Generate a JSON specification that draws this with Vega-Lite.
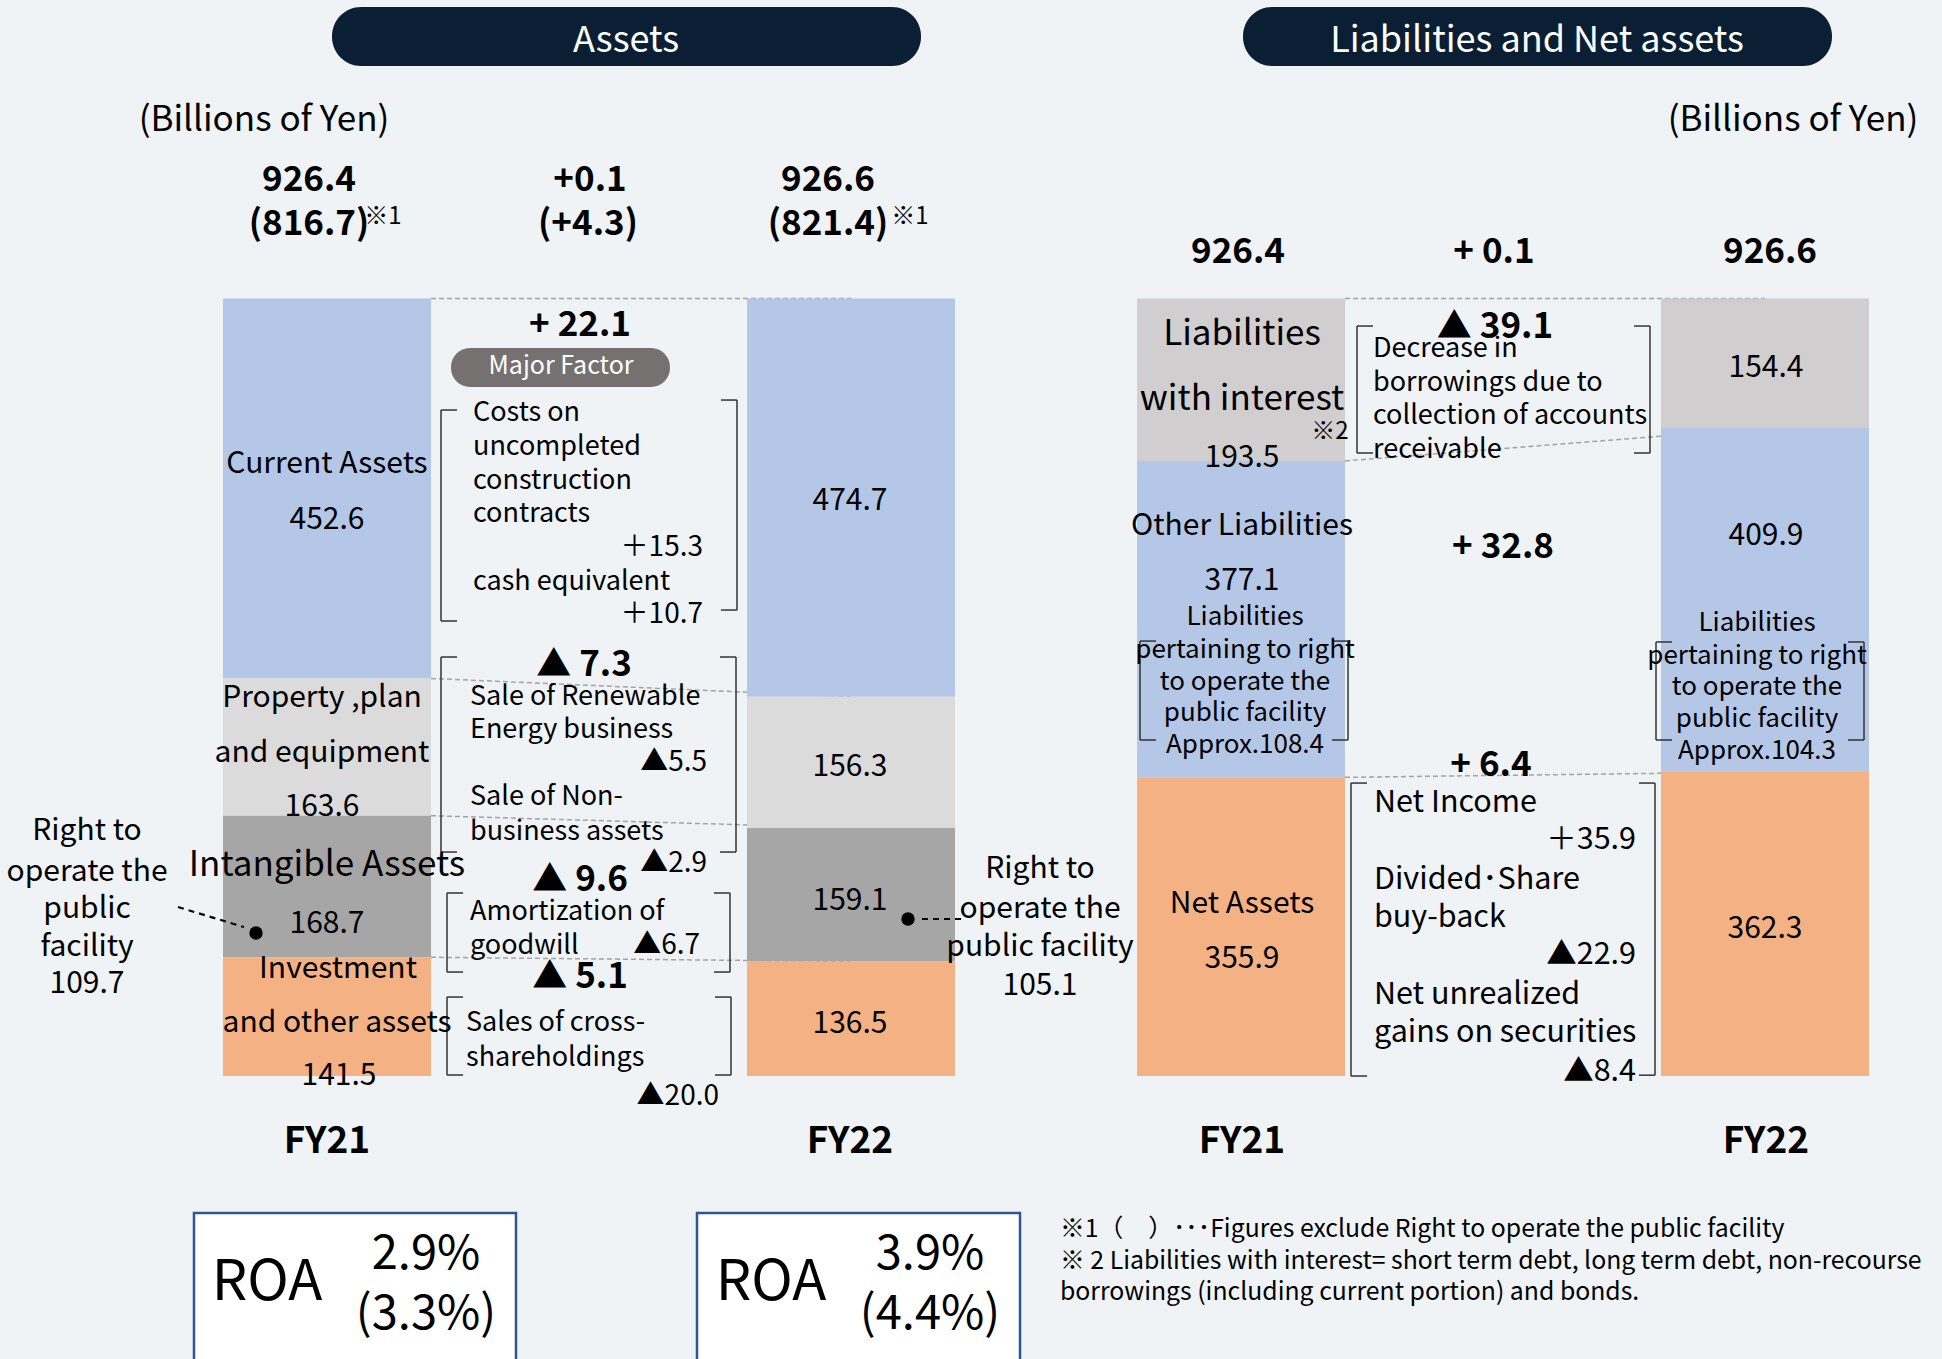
{
  "$schema": "https://vega.github.io/schema/vega-lite/v6.json",
  "width": 1942,
  "height": 1359,
  "autosize": {"type": "none"},
  "padding": 0,
  "background": "#EFF3F5",
  "config": {"view": {"stroke": null}, "font": "Noto Sans CJK JP", "axis": {"disable": true}, "legend": {"disable": true}},
  "datasets": {
    "bars": [
      {"side": "Assets", "year": "FY21", "item": "Current Assets", "order": 4, "value": 452.6},
      {"side": "Assets", "year": "FY21", "item": "Property, plant and equipment", "order": 3, "value": 163.6},
      {"side": "Assets", "year": "FY21", "item": "Intangible Assets", "order": 2, "value": 168.7},
      {"side": "Assets", "year": "FY21", "item": "Investment and other assets", "order": 1, "value": 141.5},
      {"side": "Assets", "year": "FY22", "item": "Current Assets", "order": 4, "value": 474.7},
      {"side": "Assets", "year": "FY22", "item": "Property, plant and equipment", "order": 3, "value": 156.3},
      {"side": "Assets", "year": "FY22", "item": "Intangible Assets", "order": 2, "value": 159.1},
      {"side": "Assets", "year": "FY22", "item": "Investment and other assets", "order": 1, "value": 136.5},
      {"side": "Liabilities", "year": "FY21", "item": "Liabilities with interest", "order": 3, "value": 193.5},
      {"side": "Liabilities", "year": "FY21", "item": "Other Liabilities", "order": 2, "value": 377.1},
      {"side": "Liabilities", "year": "FY21", "item": "Net Assets", "order": 1, "value": 355.9},
      {"side": "Liabilities", "year": "FY22", "item": "Liabilities with interest", "order": 3, "value": 154.4},
      {"side": "Liabilities", "year": "FY22", "item": "Other Liabilities", "order": 2, "value": 409.9},
      {"side": "Liabilities", "year": "FY22", "item": "Net Assets", "order": 1, "value": 362.3}
    ],
    "pills": [
      {"kind": "title", "x": 332, "x2": 921, "y": 1273.8, "y2": 1203.5},
      {"kind": "title", "x": 1243, "x2": 1832, "y": 1273.8, "y2": 1203.5},
      {"kind": "factor", "x": 451, "x2": 670, "y": 867.5, "y2": 821.0}
    ],
    "boxes": [
      {"x": 194, "x2": 516, "y": -163.3, "y2": -420},
      {"x": 697, "x2": 1020, "y": -163.3, "y2": -420}
    ],
    "brackets": [
      {"xo": 441, "xi": 457, "top": 793.6, "bottom": 542.2},
      {"xo": 737, "xi": 721, "top": 805.5, "bottom": 555.3},
      {"xo": 441, "xi": 457, "top": 499.3, "bottom": 266.9},
      {"xo": 736, "xi": 720, "top": 499.3, "bottom": 266.9},
      {"xo": 447, "xi": 463, "top": 218.1, "bottom": 123.9},
      {"xo": 730, "xi": 714, "top": 218.1, "bottom": 123.9},
      {"xo": 447, "xi": 463, "top": 94.1, "bottom": 1.2},
      {"xo": 731, "xi": 715, "top": 94.1, "bottom": 1.2},
      {"xo": 1357, "xi": 1373, "top": 893.7, "bottom": 742.4},
      {"xo": 1650, "xi": 1634, "top": 893.7, "bottom": 742.4},
      {"xo": 1351, "xi": 1367, "top": 349.1, "bottom": 0},
      {"xo": 1655, "xi": 1639, "top": 349.1, "bottom": 1.0},
      {"xo": 1140, "xi": 1156, "top": 518.3, "bottom": 400.4},
      {"xo": 1348, "xi": 1332, "top": 518.3, "bottom": 400.4},
      {"xo": 1656, "xi": 1672, "top": 517.2, "bottom": 400.4},
      {"xo": 1864, "xi": 1848, "top": 517.2, "bottom": 400.4}
    ],
    "pointers": [
      {"x": 178, "x2": 244, "y": 201.4, "y2": 177.5},
      {"x": 922, "x2": 962, "y": 187.1, "y2": 187.1}
    ],
    "dots": [
      {"x": 256, "y": 170.4},
      {"x": 908, "y": 187.1}
    ],
    "texts": [
      {"kind": "title", "text": "Assets", "x": 626, "y": 1236.9},
      {"kind": "title", "text": "Liabilities and Net assets", "x": 1537, "y": 1236.9},
      {"kind": "unit", "text": "(Billions of Yen)", "x": 264, "y": 1141.6},
      {"kind": "unit", "text": "(Billions of Yen)", "x": 1793, "y": 1141.6},
      {"kind": "total", "text": "926.4", "x": 309, "y": 1070.1},
      {"kind": "total", "text": "(816.7)", "x": 309, "y": 1017.6},
      {"kind": "total", "text": "+0.1", "x": 590, "y": 1070.1},
      {"kind": "total", "text": "(+4.3)", "x": 588, "y": 1017.6},
      {"kind": "total", "text": "926.6", "x": 828, "y": 1070.1},
      {"kind": "total", "text": "(821.4)", "x": 828, "y": 1017.6},
      {"kind": "total", "text": "926.4", "x": 1238, "y": 984.3},
      {"kind": "total", "text": "+ 0.1", "x": 1494, "y": 984.3},
      {"kind": "total", "text": "926.6", "x": 1770, "y": 984.3},
      {"kind": "note", "text": "※1", "x": 383, "y": 1023.6},
      {"kind": "note", "text": "※1", "x": 910, "y": 1023.6},
      {"kind": "note", "text": "※2", "x": 1330, "y": 767.4},
      {"kind": "label", "text": "Current Assets", "x": 327, "y": 730.5},
      {"kind": "label", "text": "452.6", "x": 327, "y": 663.7},
      {"kind": "label", "text": "Property ,plan", "x": 322, "y": 451.6},
      {"kind": "label", "text": "and equipment", "x": 322, "y": 386.1},
      {"kind": "label", "text": "163.6", "x": 322, "y": 321.7},
      {"kind": "labelBig", "text": "Intangible Assets", "x": 327, "y": 252.6},
      {"kind": "label", "text": "168.7", "x": 327, "y": 182.3},
      {"kind": "label", "text": "Investment", "x": 338, "y": 128.7},
      {"kind": "label", "text": "and other assets", "x": 337, "y": 64.3},
      {"kind": "label", "text": "141.5", "x": 339, "y": 1.2},
      {"kind": "label", "text": "474.7", "x": 850, "y": 686.4},
      {"kind": "label", "text": "156.3", "x": 850, "y": 369.4},
      {"kind": "label", "text": "159.1", "x": 850, "y": 209.7},
      {"kind": "label", "text": "136.5", "x": 850, "y": 63.2},
      {"kind": "label", "text": "193.5", "x": 1242, "y": 737.6},
      {"kind": "label", "text": "Other Liabilities", "x": 1242, "y": 656.6},
      {"kind": "label", "text": "377.1", "x": 1242, "y": 591.0},
      {"kind": "label", "text": "Net Assets", "x": 1242, "y": 206.2},
      {"kind": "label", "text": "355.9", "x": 1242, "y": 140.6},
      {"kind": "label", "text": "154.4", "x": 1766, "y": 844.9},
      {"kind": "label", "text": "409.9", "x": 1766, "y": 644.7},
      {"kind": "label", "text": "362.3", "x": 1765, "y": 176.4},
      {"kind": "label", "text": "Right to", "x": 87, "y": 293.1},
      {"kind": "label", "text": "operate the", "x": 87, "y": 244.3},
      {"kind": "label", "text": "public", "x": 87, "y": 200.2},
      {"kind": "label", "text": "facility", "x": 87, "y": 154.9},
      {"kind": "label", "text": "109.7", "x": 87, "y": 110.8},
      {"kind": "label", "text": "Right to", "x": 1040, "y": 247.9},
      {"kind": "label", "text": "operate the", "x": 1040, "y": 200.2},
      {"kind": "label", "text": "public facility", "x": 1040, "y": 154.9},
      {"kind": "label", "text": "105.1", "x": 1040, "y": 108.4},
      {"kind": "labelBig", "text": "Liabilities", "x": 1242, "y": 885.4},
      {"kind": "labelBig", "text": "with interest", "x": 1242, "y": 807.9},
      {"kind": "delta", "text": "+ 22.1", "x": 580, "y": 897.3},
      {"kind": "delta", "text": "▲ 7.3", "x": 584, "y": 492.1},
      {"kind": "delta", "text": "▲ 9.6", "x": 580, "y": 235.9},
      {"kind": "delta", "text": "▲ 5.1", "x": 580, "y": 120.4},
      {"kind": "delta", "text": "▲ 39.1", "x": 1495, "y": 894.9},
      {"kind": "delta", "text": "+ 32.8", "x": 1503, "y": 632.7},
      {"kind": "delta", "text": "+ 6.4", "x": 1491, "y": 373.0},
      {"kind": "factL", "text": "Costs on", "x": 473, "y": 790.0},
      {"kind": "factL", "text": "uncompleted", "x": 473, "y": 749.5},
      {"kind": "factL", "text": "construction", "x": 473, "y": 709.0},
      {"kind": "factL", "text": "contracts", "x": 473, "y": 669.7},
      {"kind": "factL", "text": "cash equivalent", "x": 473, "y": 588.7},
      {"kind": "factL", "text": "Sale of Renewable", "x": 470, "y": 451.6},
      {"kind": "factL", "text": "Energy business", "x": 470, "y": 412.3},
      {"kind": "factL", "text": "Sale of Non-", "x": 470, "y": 332.5},
      {"kind": "factL", "text": "business assets", "x": 470, "y": 290.8},
      {"kind": "factL", "text": "Amortization of", "x": 470, "y": 195.4},
      {"kind": "factL", "text": "goodwill", "x": 470, "y": 154.9},
      {"kind": "factL", "text": "Sales of cross-", "x": 466, "y": 63.2},
      {"kind": "factL", "text": "shareholdings", "x": 466, "y": 21.4},
      {"kind": "factL", "text": "Decrease in", "x": 1373, "y": 866.3},
      {"kind": "factL", "text": "borrowings due to", "x": 1373, "y": 825.8},
      {"kind": "factL", "text": "collection of accounts", "x": 1373, "y": 786.5},
      {"kind": "factL", "text": "receivable", "x": 1373, "y": 745.9},
      {"kind": "factR", "text": "＋15.3", "x": 703, "y": 629.2},
      {"kind": "factR", "text": "＋10.7", "x": 703, "y": 549.3},
      {"kind": "factR", "text": "▲5.5", "x": 707, "y": 373.0},
      {"kind": "factR", "text": "▲2.9", "x": 707, "y": 252.6},
      {"kind": "factR", "text": "▲6.7", "x": 700, "y": 154.9},
      {"kind": "factR", "text": "▲20.0", "x": 719, "y": -25.0},
      {"kind": "factL2", "text": "Net Income", "x": 1374, "y": 325.3},
      {"kind": "factL2", "text": "Divided･Share", "x": 1374, "y": 233.6},
      {"kind": "factL2", "text": "buy-back", "x": 1374, "y": 188.3},
      {"kind": "factL2", "text": "Net unrealized", "x": 1374, "y": 96.5},
      {"kind": "factL2", "text": "gains on securities", "x": 1374, "y": 51.2},
      {"kind": "factR2", "text": "＋35.9", "x": 1636, "y": 281.2},
      {"kind": "factR2", "text": "▲22.9", "x": 1636, "y": 144.2},
      {"kind": "factR2", "text": "▲8.4", "x": 1636, "y": 4.8},
      {"kind": "sub", "text": "Liabilities", "x": 1245, "y": 547.0},
      {"kind": "sub", "text": "pertaining to right", "x": 1245, "y": 507.6},
      {"kind": "sub", "text": "to operate the", "x": 1245, "y": 469.5},
      {"kind": "sub", "text": "public facility", "x": 1245, "y": 432.6},
      {"kind": "sub", "text": "Approx.108.4", "x": 1245, "y": 394.4},
      {"kind": "sub", "text": "Liabilities", "x": 1757, "y": 539.8},
      {"kind": "sub", "text": "pertaining to right", "x": 1757, "y": 500.5},
      {"kind": "sub", "text": "to operate the", "x": 1757, "y": 463.5},
      {"kind": "sub", "text": "public facility", "x": 1757, "y": 425.4},
      {"kind": "sub", "text": "Approx.104.3", "x": 1757, "y": 387.3},
      {"kind": "pill", "text": "Major Factor", "x": 561, "y": 846.0},
      {"kind": "fy", "text": "FY21", "x": 327, "y": -76.0},
      {"kind": "fy", "text": "FY22", "x": 850, "y": -76.0},
      {"kind": "fy", "text": "FY21", "x": 1242, "y": -76.0},
      {"kind": "fy", "text": "FY22", "x": 1766, "y": -76.0},
      {"kind": "roa", "text": "ROA", "x": 267, "y": -246.7},
      {"kind": "roa", "text": "ROA", "x": 771, "y": -246.7},
      {"kind": "pct", "text": "2.9%", "x": 426, "y": -213.3},
      {"kind": "pct", "text": "(3.3%)", "x": 426, "y": -284.8},
      {"kind": "pct", "text": "3.9%", "x": 930, "y": -213.3},
      {"kind": "pct", "text": "(4.4%)", "x": 930, "y": -284.8},
      {"kind": "foot", "text": "※1（　）･･･Figures exclude Right to operate the public facility", "x": 1060, "y": -183.5},
      {"kind": "foot", "text": "※ 2 Liabilities with interest= short term debt, long term debt, non-recourse", "x": 1060, "y": -221.6},
      {"kind": "foot", "text": "borrowings (including current portion) and bonds.", "x": 1060, "y": -258.6}
    ]
  },
  "resolve": {"scale": {"x": "independent"}},
  "layer": [
    {
      "data": {"name": "bars"},
      "transform": [
        {"filter": "datum.side === 'Assets'"},
        {"stack": "value", "groupby": ["year"], "sort": [{"field": "order", "order": "ascending"}], "as": ["y0", "y1"]}
      ],
      "layer": [
        {
          "transform": [{"pivot": "year", "value": "y1", "groupby": ["item"]}],
          "mark": {"type": "rule", "strokeDash": [5, 3], "color": "#A3A3A3", "strokeWidth": 1.5},
          "encoding": {
            "x": {"datum": "FY21", "type": "nominal", "bandPosition": 1},
            "x2": {"datum": "FY22"},
            "y": {"field": "FY21", "type": "quantitative"},
            "y2": {"field": "FY22"}
          }
        },
        {
          "mark": {"type": "bar"},
          "encoding": {
            "x": {"field": "year", "type": "nominal", "scale": {"domain": ["FY21", "FY22"], "range": [223, 955], "paddingInner": 0.603, "paddingOuter": 0}},
            "y": {"field": "y0", "type": "quantitative", "scale": {"domain": [-337.2, 1282.2], "nice": false, "zero": false}},
            "y2": {"field": "y1"},
            "color": {"field": "item", "type": "nominal", "scale": {"domain": ["Current Assets", "Property, plant and equipment", "Intangible Assets", "Investment and other assets", "Liabilities with interest", "Other Liabilities", "Net Assets"], "range": ["#B4C7E7", "#DBDBDB", "#A6A6A6", "#F4B183", "#D0CECE", "#B4C7E7", "#F4B183"]}}
          }
        }
      ]
    },
    {
      "data": {"name": "bars"},
      "transform": [
        {"filter": "datum.side === 'Liabilities'"},
        {"stack": "value", "groupby": ["year"], "sort": [{"field": "order", "order": "ascending"}], "as": ["y0", "y1"]}
      ],
      "layer": [
        {
          "transform": [{"pivot": "year", "value": "y1", "groupby": ["item"]}],
          "mark": {"type": "rule", "strokeDash": [5, 3], "color": "#A3A3A3", "strokeWidth": 1.5},
          "encoding": {
            "x": {"datum": "FY21", "type": "nominal", "bandPosition": 1},
            "x2": {"datum": "FY22"},
            "y": {"field": "FY21", "type": "quantitative"},
            "y2": {"field": "FY22"}
          }
        },
        {
          "mark": {"type": "bar"},
          "encoding": {
            "x": {"field": "year", "type": "nominal", "scale": {"domain": ["FY21", "FY22"], "range": [1137, 1869], "paddingInner": 0.603, "paddingOuter": 0}},
            "y": {"field": "y0", "type": "quantitative", "scale": {"domain": [-337.2, 1282.2], "nice": false, "zero": false}},
            "y2": {"field": "y1"},
            "color": {"field": "item", "type": "nominal", "scale": {"domain": ["Current Assets", "Property, plant and equipment", "Intangible Assets", "Investment and other assets", "Liabilities with interest", "Other Liabilities", "Net Assets"], "range": ["#B4C7E7", "#DBDBDB", "#A6A6A6", "#F4B183", "#D0CECE", "#B4C7E7", "#F4B183"]}}
          }
        }
      ]
    },
    {
      "encoding": {
        "x": {"field": "x", "type": "quantitative", "scale": {"domain": [0, 1942], "nice": false, "zero": false}},
        "y": {"field": "y", "type": "quantitative", "scale": {"domain": [-337.2, 1282.2], "nice": false, "zero": false}}
      },
      "layer": [
        {"data": {"name": "pills"}, "transform": [{"filter": "datum.kind === 'title'"}], "mark": {"type": "rect", "cornerRadius": 29, "color": "#0A1F33"}, "encoding": {"x2": {"field": "x2"}, "y2": {"field": "y2"}}},
        {"data": {"name": "pills"}, "transform": [{"filter": "datum.kind === 'factor'"}], "mark": {"type": "rect", "cornerRadius": 19, "color": "#767171"}, "encoding": {"x2": {"field": "x2"}, "y2": {"field": "y2"}}},
        {"data": {"name": "boxes"}, "mark": {"type": "rect", "fill": "#FFFFFF", "stroke": "#2F5597", "strokeWidth": 2.5}, "encoding": {"x2": {"field": "x2"}, "y2": {"field": "y2"}}},
        {"data": {"name": "brackets"}, "mark": {"type": "rule", "color": "#333333", "strokeWidth": 1.5}, "encoding": {"x": {"field": "xo", "type": "quantitative"}, "y": {"field": "top", "type": "quantitative"}, "y2": {"field": "bottom"}}},
        {"data": {"name": "brackets"}, "mark": {"type": "rule", "color": "#333333", "strokeWidth": 1.5}, "encoding": {"x": {"field": "xo", "type": "quantitative"}, "x2": {"field": "xi"}, "y": {"field": "top", "type": "quantitative"}}},
        {"data": {"name": "brackets"}, "mark": {"type": "rule", "color": "#333333", "strokeWidth": 1.5}, "encoding": {"x": {"field": "xo", "type": "quantitative"}, "x2": {"field": "xi"}, "y": {"field": "bottom", "type": "quantitative"}}},
        {"data": {"name": "pointers"}, "mark": {"type": "rule", "color": "#000000", "strokeWidth": 2.2, "strokeDash": [6, 5]}, "encoding": {"x2": {"field": "x2"}, "y2": {"field": "y2"}}},
        {"data": {"name": "dots"}, "mark": {"type": "point", "filled": true, "color": "#000000", "size": 180, "opacity": 1}, "encoding": {}},
        {"data": {"name": "texts"}, "transform": [{"filter": "datum.kind === 'title'"}], "mark": {"type": "text", "fontSize": 36, "color": "#FFFFFF", "align": "center", "baseline": "middle", "dy": 3}, "encoding": {"text": {"field": "text"}}},
        {"data": {"name": "texts"}, "transform": [{"filter": "datum.kind === 'unit'"}], "mark": {"type": "text", "fontSize": 35, "color": "#000000", "align": "center", "baseline": "middle", "dy": 2}, "encoding": {"text": {"field": "text"}}},
        {"data": {"name": "texts"}, "transform": [{"filter": "datum.kind === 'total'"}], "mark": {"type": "text", "fontSize": 35, "fontWeight": "bold", "color": "#000000", "align": "center", "baseline": "middle", "dy": 2}, "encoding": {"text": {"field": "text"}}},
        {"data": {"name": "texts"}, "transform": [{"filter": "datum.kind === 'note'"}], "mark": {"type": "text", "fontSize": 24, "color": "#000000", "align": "center", "baseline": "middle"}, "encoding": {"text": {"field": "text"}}},
        {"data": {"name": "texts"}, "transform": [{"filter": "datum.kind === 'label'"}], "mark": {"type": "text", "fontSize": 30, "color": "#000000", "align": "center", "baseline": "middle", "dy": 1}, "encoding": {"text": {"field": "text"}}},
        {"data": {"name": "texts"}, "transform": [{"filter": "datum.kind === 'labelBig'"}], "mark": {"type": "text", "fontSize": 35, "color": "#000000", "align": "center", "baseline": "middle", "dy": 1}, "encoding": {"text": {"field": "text"}}},
        {"data": {"name": "texts"}, "transform": [{"filter": "datum.kind === 'delta'"}], "mark": {"type": "text", "fontSize": 35, "fontWeight": "bold", "color": "#000000", "align": "center", "baseline": "middle", "dy": 2}, "encoding": {"text": {"field": "text"}}},
        {"data": {"name": "texts"}, "transform": [{"filter": "datum.kind === 'factL'"}], "mark": {"type": "text", "fontSize": 27, "color": "#000000", "align": "left", "baseline": "middle"}, "encoding": {"text": {"field": "text"}}},
        {"data": {"name": "texts"}, "transform": [{"filter": "datum.kind === 'factR'"}], "mark": {"type": "text", "fontSize": 28, "color": "#000000", "align": "right", "baseline": "middle"}, "encoding": {"text": {"field": "text"}}},
        {"data": {"name": "texts"}, "transform": [{"filter": "datum.kind === 'factL2'"}], "mark": {"type": "text", "fontSize": 30.5, "color": "#000000", "align": "left", "baseline": "middle"}, "encoding": {"text": {"field": "text"}}},
        {"data": {"name": "texts"}, "transform": [{"filter": "datum.kind === 'factR2'"}], "mark": {"type": "text", "fontSize": 30.5, "color": "#000000", "align": "right", "baseline": "middle"}, "encoding": {"text": {"field": "text"}}},
        {"data": {"name": "texts"}, "transform": [{"filter": "datum.kind === 'sub'"}], "mark": {"type": "text", "fontSize": 26, "color": "#000000", "align": "center", "baseline": "middle"}, "encoding": {"text": {"field": "text"}}},
        {"data": {"name": "texts"}, "transform": [{"filter": "datum.kind === 'pill'"}], "mark": {"type": "text", "fontSize": 25, "color": "#FFFFFF", "align": "center", "baseline": "middle"}, "encoding": {"text": {"field": "text"}}},
        {"data": {"name": "texts"}, "transform": [{"filter": "datum.kind === 'fy'"}], "mark": {"type": "text", "fontSize": 37, "fontWeight": "bold", "color": "#000000", "align": "center", "baseline": "middle", "dy": 2}, "encoding": {"text": {"field": "text"}}},
        {"data": {"name": "texts"}, "transform": [{"filter": "datum.kind === 'roa'"}], "mark": {"type": "text", "fontSize": 56, "color": "#000000", "align": "center", "baseline": "middle"}, "encoding": {"text": {"field": "text"}}},
        {"data": {"name": "texts"}, "transform": [{"filter": "datum.kind === 'pct'"}], "mark": {"type": "text", "fontSize": 47, "color": "#000000", "align": "center", "baseline": "middle"}, "encoding": {"text": {"field": "text"}}},
        {"data": {"name": "texts"}, "transform": [{"filter": "datum.kind === 'foot'"}], "mark": {"type": "text", "fontSize": 24.8, "color": "#000000", "align": "left", "baseline": "middle"}, "encoding": {"text": {"field": "text"}}}
      ]
    }
  ]
}
